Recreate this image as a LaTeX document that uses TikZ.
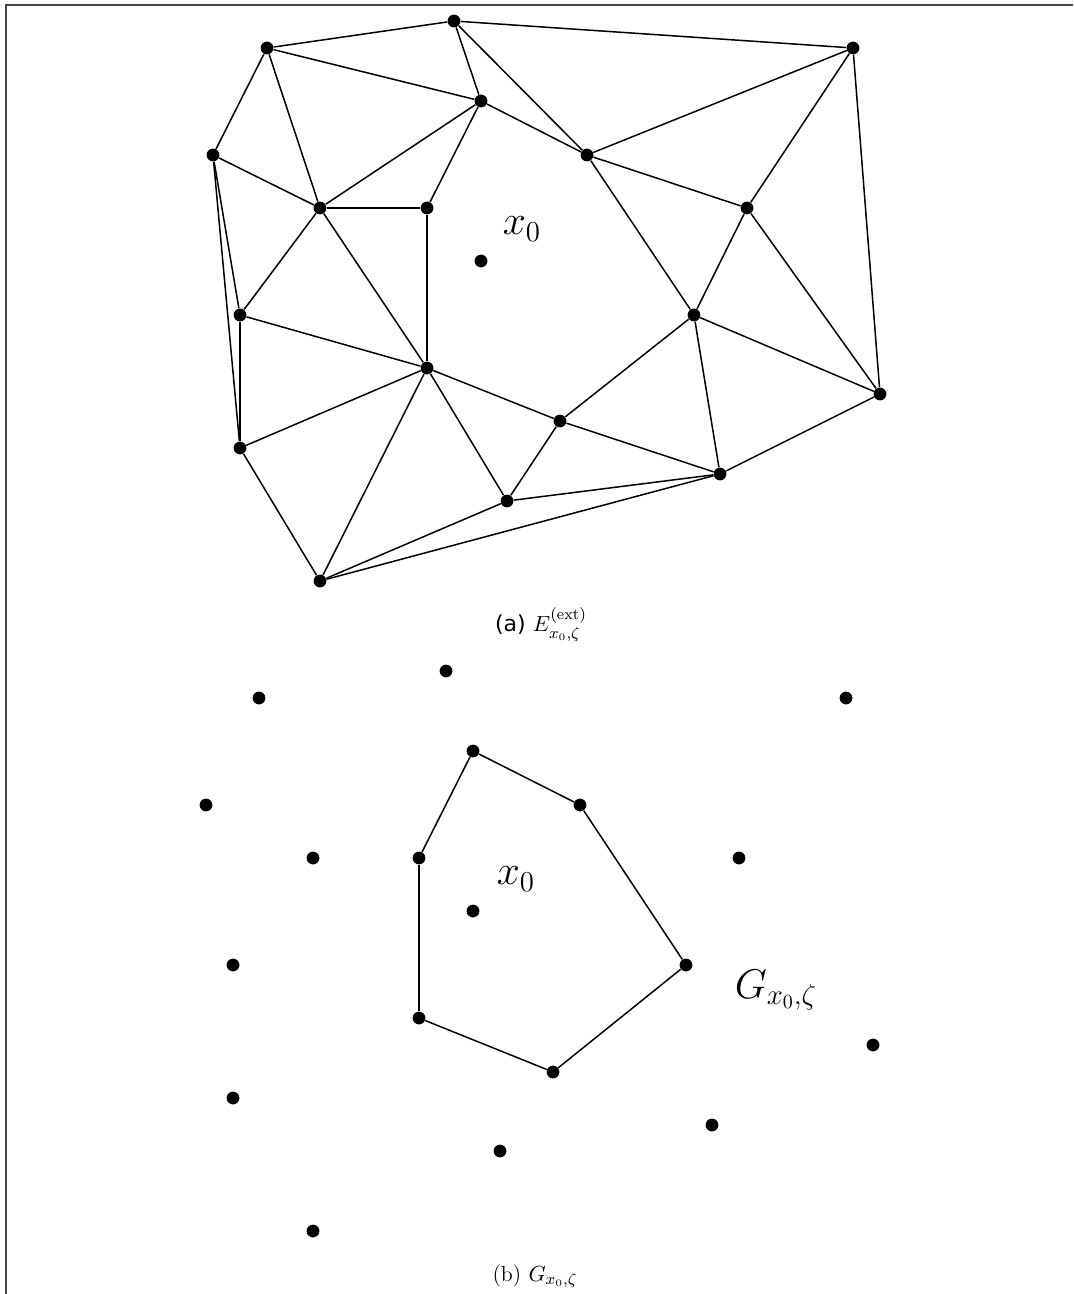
\documentclass[tikz,border=0pt]{standalone}
\usepackage{amsmath,amssymb}
\usepackage{fontspec}
\usepackage{tikz}
\usetikzlibrary{positioning}
\newfontfamily\capsans{DejaVu Sans}
\definecolor{framegray}{RGB}{70,70,70}

\begin{document}
\begin{tikzpicture}[x=0.5pt,y=-0.5pt,
  vtx/.style={circle,fill=black,inner sep=0pt,minimum size=6.4pt},
  ed/.style={draw=black,line width=0.75pt},
  lbl/.style={font=\fontsize{19.5}{23}\selectfont,inner sep=0pt},
  subcap/.style={font=\fontsize{11}{13}\selectfont,inner sep=0pt,anchor=base}]
  \useasboundingbox (0,0) rectangle (1073,1294);
  % frame edges
  \draw[framegray,line width=1pt] (6,1294) -- (6,5) -- (1073,5);

  % (a) extended graph
  \foreach \n/\x/\y in {1/267/48,2/454/21,3/853/48,4/213/155,5/481/101,
      6/587/155,7/320/208,8/427/208,9/747/208,10/240/315,11/694/315,
      12/427/368,13/880/394,14/240/448,15/560/421,16/720/474,17/507/501,
      18/320/581}{
    \node[vtx](a\n) at (\x,\y) {};}
  \node[vtx](ax) at (481,261) {};
  \node[lbl](axl) at (522,229) {$x_0$};

  \foreach \i/\j in {1/2,2/3,1/5,1/4,1/7,2/5,2/6,3/6,3/9,3/13,4/7,4/10,
      4/14,5/7,5/8,5/6,7/8,7/10,7/12,8/12,6/9,6/11,9/11,9/13,10/12,
      10/14,11/15,11/13,11/16,12/14,12/15,12/17,12/18,14/18,15/17,
      15/16,16/13,17/16,18/17,18/16}{
    \draw[ed](a\i)--(a\j);}

  \node[subcap](capa) at (541,631) {{\capsans(a)} $E^{(\mathrm{ext})}_{x_0,\zeta}$};

  % (b) the cell around x0
  \foreach \n/\x/\y in {1/446/671,2/259/698,3/846/698,4/206/805,5/473/751,
      6/580/805,7/313/858,8/419/858,9/739/858,10/233/965,11/686/965,
      12/419/1018,13/873/1045,14/233/1098,15/553/1072,16/712/1125,
      17/500/1151,18/313/1231}{
    \node[vtx](b\n) at (\x,\y) {};}
  \node[vtx](bx) at (473,911) {};
  \node[lbl](bxl) at (516,879) {$x_0$};

  \foreach \i/\j in {5/6,6/11,11/15,15/12,12/8,8/5}{
    \draw[ed](b\i)--(b\j);}

  \node[lbl](gl) at (776,990) {$G_{x_0,\zeta}$};
  \node[subcap](capb) at (535,1281) {(b) $G_{x_0,\zeta}$};
\end{tikzpicture}
\end{document}
